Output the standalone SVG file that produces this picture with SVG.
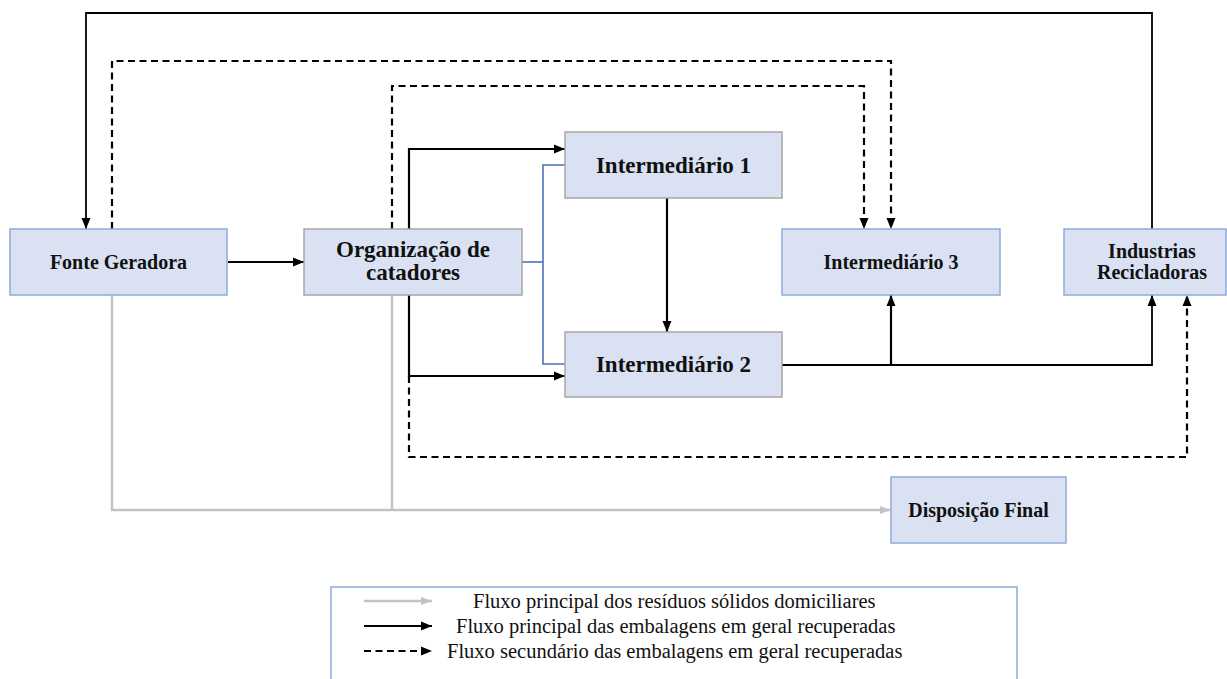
<svg xmlns="http://www.w3.org/2000/svg" width="1227" height="679" viewBox="0 0 1227 679">
<style>
.box{fill:#d9e1f2;stroke-width:1.5}
.bb{stroke:#8eaadb}
.gb{stroke:#a6a6a6}
.t{font-family:"Liberation Serif","Times New Roman",serif;font-weight:bold;fill:#111;text-anchor:middle}
.lt{font-family:"Liberation Serif","Times New Roman",serif;font-size:20.5px;fill:#111}
.s{fill:none;stroke:#000;stroke-width:2.2}
.s1{fill:none;stroke:#000;stroke-width:1.8}
.d{fill:none;stroke:#000;stroke-width:2.2;stroke-dasharray:7 4.5}
.g{fill:none;stroke:#c3c3c3;stroke-width:2.4}
.b{fill:none;stroke:#4a72b8;stroke-width:1.6}
</style>
<defs>
<marker id="ah" markerWidth="12" markerHeight="10" refX="11" refY="5" orient="auto" markerUnits="userSpaceOnUse">
<path d="M0,0.5 L11,5 L0,9.5 Z" fill="#000"/>
</marker>
<marker id="ahg" markerWidth="12" markerHeight="10" refX="11" refY="5" orient="auto" markerUnits="userSpaceOnUse">
<path d="M0,1 L11,5 L0,9 Z" fill="#c3c3c3"/>
</marker>
</defs>

<g id="connectors">
<polyline class="s1" points="1152,229 1152,13 86,13 86,229" marker-end="url(#ah)"/>
<polyline class="d" points="112,229 112,61 891,61 891,229" marker-end="url(#ah)"/>
<polyline class="d" points="392,229 392,86 864,86 864,229" marker-end="url(#ah)"/>
<polyline class="s" points="409,229 409,149 565,149" marker-end="url(#ah)"/>
<polyline class="s" points="409,295 409,376 565,376" marker-end="url(#ah)"/>
<polyline class="d" points="409,376 409,457 1187,457 1187,295" marker-end="url(#ah)"/>
<polyline class="b" points="522,262 543,262"/>
<polyline class="b" points="565,165 543,165 543,364 565,364"/>
<line class="s" x1="667" y1="198" x2="667" y2="332" marker-end="url(#ah)"/>
<polyline class="s1" points="782,365 1152,365 1152,295" marker-end="url(#ah)"/>
<line class="s" x1="891" y1="365" x2="891" y2="295" marker-end="url(#ah)"/>
<line class="s" x1="228" y1="262" x2="304" y2="262" marker-end="url(#ah)"/>
<polyline class="g" points="112,295 112,510 891,510" marker-end="url(#ahg)"/>
<line class="g" x1="392" y1="295" x2="392" y2="510"/>
</g>

<g id="fonte">
<rect class="box bb" x="10" y="229" width="217" height="66"/>
<text class="t" x="118.5" y="269" font-size="20">Fonte Geradora</text>
</g>
<g id="organizacao">
<rect class="box gb" x="304" y="229" width="218" height="66"/>
<text class="t" x="413" y="257" font-size="23">Organização de</text>
<text class="t" x="413" y="280" font-size="23">catadores</text>
</g>
<g id="int1">
<rect class="box gb" x="565" y="132" width="217" height="66"/>
<text class="t" x="673.5" y="173" font-size="23">Intermediário 1</text>
</g>
<g id="int2">
<rect class="box gb" x="565" y="332" width="217" height="65"/>
<text class="t" x="673.5" y="372" font-size="23">Intermediário 2</text>
</g>
<g id="int3">
<rect class="box bb" x="782" y="229" width="218" height="66"/>
<text class="t" x="891" y="269" font-size="20">Intermediário 3</text>
</g>
<g id="industrias">
<rect class="box bb" x="1064" y="229" width="162" height="66"/>
<text class="t" x="1152" y="258" font-size="20">Industrias</text>
<text class="t" x="1152" y="279" font-size="20">Recicladoras</text>
</g>
<g id="disposicao">
<rect class="box bb" x="891" y="477" width="175" height="66"/>
<text class="t" x="978.5" y="517" font-size="20">Disposição Final</text>
</g>

<g id="legend">
<rect x="331" y="587" width="686" height="110" fill="#fff" stroke="#8eaadb" stroke-width="1.5"/>
<line class="g" x1="364" y1="601" x2="432" y2="601" marker-end="url(#ahg)"/>
<text class="lt" x="473" y="608">Fluxo principal dos resíduos sólidos domiciliares</text>
<line class="s" x1="364" y1="626" x2="432" y2="626" marker-end="url(#ah)"/>
<text class="lt" x="456" y="633">Fluxo principal das embalagens em geral recuperadas</text>
<line class="d" x1="364" y1="651" x2="432" y2="651" marker-end="url(#ah)"/>
<text class="lt" x="447" y="658">Fluxo secundário das embalagens em geral recuperadas</text>
</g>
</svg>
